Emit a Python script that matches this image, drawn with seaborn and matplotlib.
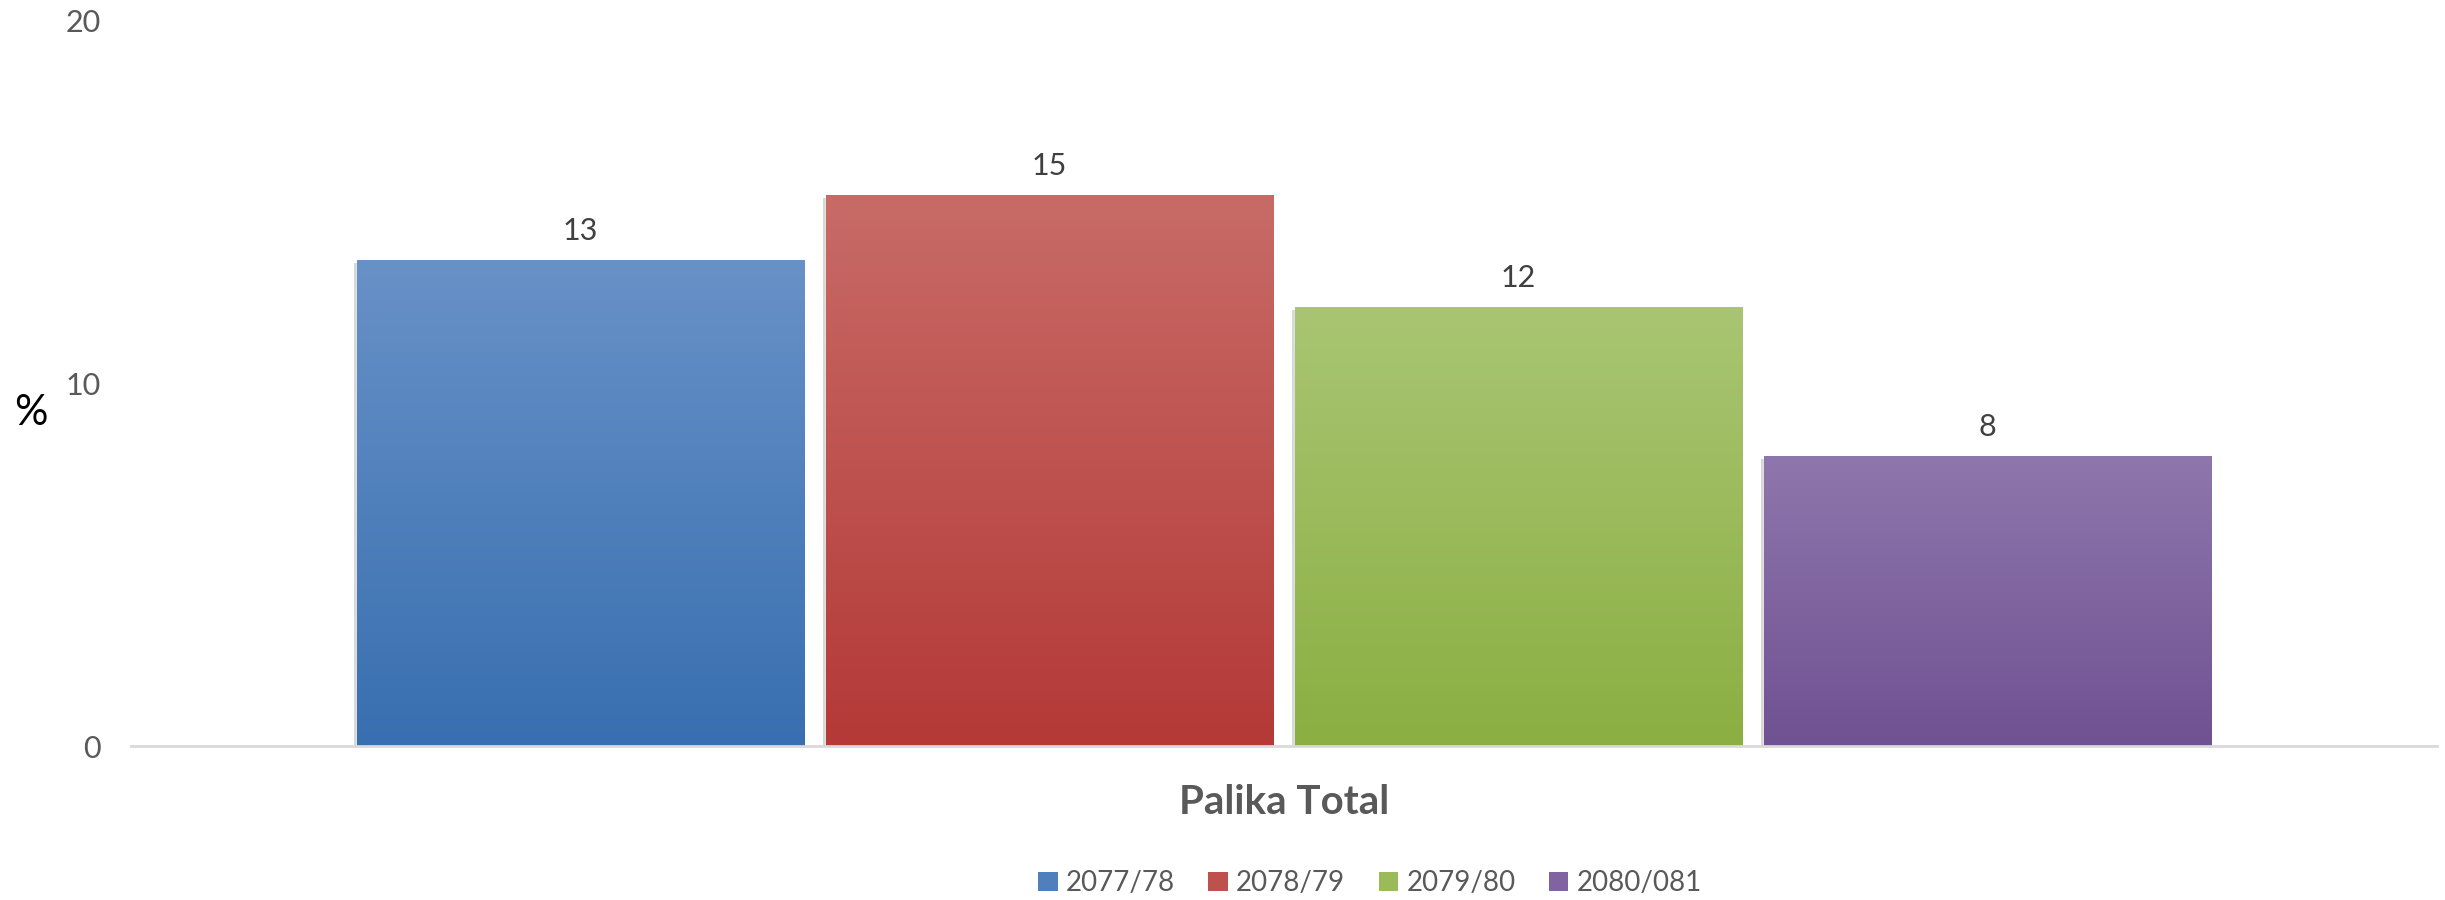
import numpy as np
import pandas as pd
import matplotlib
matplotlib.use("Agg")
import matplotlib.pyplot as plt
import matplotlib.colors as mcolors
from matplotlib.patches import Patch
import matplotlib.patheffects as pe
import seaborn as sns

# ---- data ----
categories = ["Palika Total"]
years = ["2077/78", "2078/79", "2079/80", "2080/081"]
values = [13.4, 15.2, 12.1, 8.0]
y_ticks = [0, 10, 20]

# colours (top of gradient, bottom of gradient)
top_colors = ["#6891C7", "#C86B67", "#A9C573", "#8E77AC"]
bot_colors = ["#386FB0", "#B43937", "#8BAF42", "#705193"]
mid_colors = ["#4F7FBC", "#BE504D", "#9BBB59", "#8064A2"]

df = pd.DataFrame({
    "group": categories * len(years),
    "year": years,
    "value": values,
})

sns.set_theme(style="white")
plt.rcParams["font.family"] = ["Lato", "DejaVu Sans"]

fig = plt.figure(figsize=(24.45, 9), dpi=100)
ax = fig.add_axes([131 / 2445, 1 - 746 / 900, (2437 - 131) / 2445, (746 - 21) / 900])

sns.barplot(data=df, x="group", y="value", hue="year", hue_order=years,
            palette=mid_colors, saturation=1, width=0.8135, gap=0.045,
            legend=False, ax=ax, errorbar=None)

# gradient fill clipped to each bar
bars = [p for p in ax.patches]
for patch, ct, cb in zip(bars, top_colors, bot_colors):
    x0, y0 = patch.get_x(), patch.get_y()
    w, h = patch.get_width(), patch.get_height()
    c1 = np.array(mcolors.to_rgb(ct))
    c2 = np.array(mcolors.to_rgb(cb))
    t = np.linspace(0, 1, 256)[:, None]
    grad = (c1[None, :] * (1 - t) + c2[None, :] * t)[:, None, :]
    im = ax.imshow(grad, extent=[x0, x0 + w, y0, y0 + h], origin="upper",
                   aspect="auto", zorder=patch.get_zorder() + 0.1, interpolation="bilinear")
    im.set_clip_path(patch)
    patch.set_path_effects([pe.SimplePatchShadow(offset=(-2, -2), shadow_rgbFace="#cfcfcf", alpha=0.8),
                            pe.Normal()])

for cont in ax.containers:
    ax.bar_label(cont, fmt="%.0f", padding=11, fontsize=22, color="#404040")

ax.set_xlim(-0.5, 0.5)
ax.set_ylim(0, 20)
ax.set_yticks(y_ticks)
ax.set_yticklabels([str(v) for v in y_ticks])
ax.tick_params(axis="y", length=0, pad=22, labelcolor="#595959", labelsize=22)
ax.tick_params(axis="x", length=0, pad=27, labelcolor="#595959", labelsize=29)
for lbl in ax.get_xticklabels():
    lbl.set_fontweight("bold")

ax.set_xlabel("")
ax.set_ylabel("%", rotation=0, fontsize=30, color="black", ha="center", va="center")
ax.yaxis.set_label_coords((31 - 131) / 2306, (746 - 413) / 725)

for s in ["top", "right", "left"]:
    ax.spines[s].set_visible(False)
ax.spines["bottom"].set_color("#D9D9D9")
ax.spines["bottom"].set_linewidth(2)
ax.grid(False)

handles = [Patch(facecolor=c, edgecolor="none", label=y) for c, y in zip(mid_colors, years)]
fig.legend(handles=handles, loc="center", bbox_to_anchor=(1370 / 2445, 1 - 883 / 900),
           ncol=4, frameon=False, fontsize=20, labelcolor="#595959",
           handlelength=0.7, handleheight=0.7, handletextpad=0.3, columnspacing=1.2)

fig.savefig("out.png", dpi=100, facecolor="white")
